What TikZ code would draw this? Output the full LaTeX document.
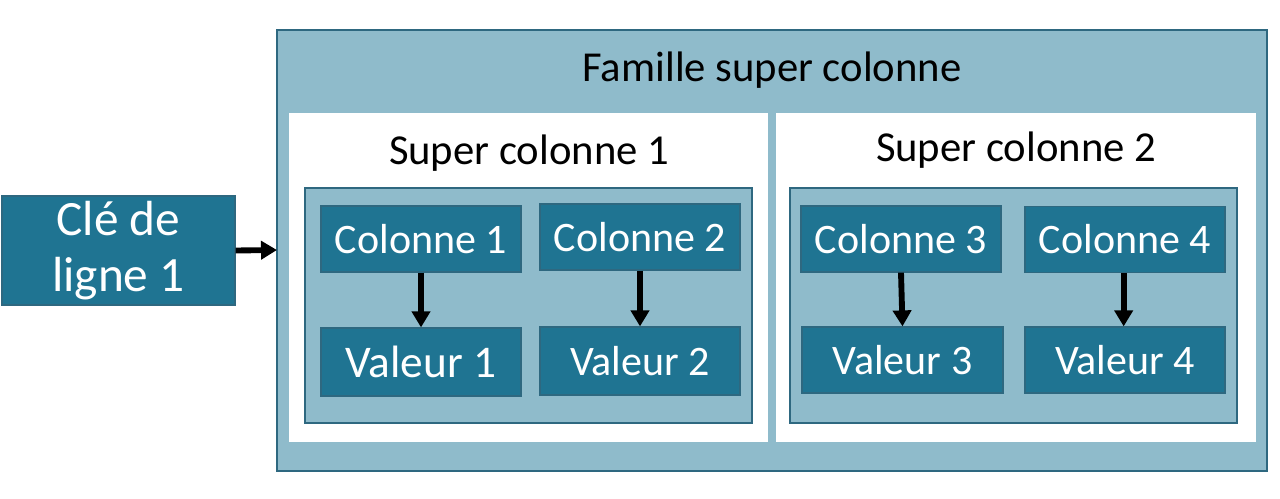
\documentclass[tikz,border=0pt]{standalone}
\usepackage{fontspec}
\setmainfont{Carlito}
\usetikzlibrary{arrows.meta}
\definecolor{darkteal}{RGB}{31,116,146}
\definecolor{lightteal}{RGB}{143,187,203}
\definecolor{edgeteal}{RGB}{46,104,128}
\tikzset{
  lightbox/.style={draw=edgeteal, line width=0.9pt, fill=lightteal},
  whitebox/.style={fill=white, draw=none},
  darkbox/.style={draw=edgeteal, line width=0.9pt, fill=darkteal, text=white, inner sep=0pt},
  title/.style={text=black, font=\fontsize{32pt}{36pt}\selectfont, inner sep=0pt},
  conn/.style={line width=4.4pt, -{Triangle[width=13.5pt,length=12pt]}},
}
\begin{document}
\begin{tikzpicture}[x=0.75pt,y=-0.75pt]
\useasboundingbox (0,0) rectangle (1280,499);
% family
\path[lightbox] (277,30) rectangle (1267,471);
\node[title] (fam) at (772,70) {Famille super colonne};
% super columns
\path[whitebox] (289,113) rectangle (768,442);
\path[whitebox] (776,113) rectangle (1256,442);
\node[title] (sc1) at (529,153) {Super colonne 1};
\node[title] (sc2) at (1016,150) {Super colonne 2};
% inner areas
\path[lightbox] (305,188) rectangle (752,423);
\path[lightbox] (790,188) rectangle (1237,423);
% key
\node[darkbox, minimum width=233*0.75pt, minimum height=109*0.75pt, align=center,
      font=\fontsize{37pt}{42pt}\selectfont] (key) at (118.5,250.5) {Clé de\\ligne 1};
% column and value boxes
\tikzset{cv/.style={darkbox, minimum width=200*0.75pt, minimum height=66*0.75pt, font=\fontsize{31.5pt}{36pt}\selectfont}}
\node[cv] (c1) at (421,239) {Colonne 1};
\node[cv] (c2) at (640,237) {Colonne 2};
\node[cv] (c3) at (901,239) {Colonne 3};
\node[cv] (c4) at (1125,239.5) {Colonne 4};
\node[cv, minimum height=68*0.75pt, font=\fontsize{34pt}{40pt}\selectfont] (v1) at (421,362) {Valeur 1};
\node[cv, minimum height=68*0.75pt] (v2) at (640,361) {Valeur 2};
\node[cv, minimum width=201*0.75pt] (v3) at (902.5,360) {Valeur 3};
\node[cv] (v4) at (1125,360) {Valeur 4};
% arrows
\coordinate (famleft) at (277,250);
\draw[conn] (key.east) -- (famleft);
\draw[conn] (c1.south) -- (v1.north);
\draw[conn] (c2.south) -- (v2.north);
\draw[conn] (c3.south) -- (v3.north);
\draw[conn] ([xshift=-1pt]c4.south) -- ([xshift=-1pt]v4.north);
\end{tikzpicture}
\end{document}
